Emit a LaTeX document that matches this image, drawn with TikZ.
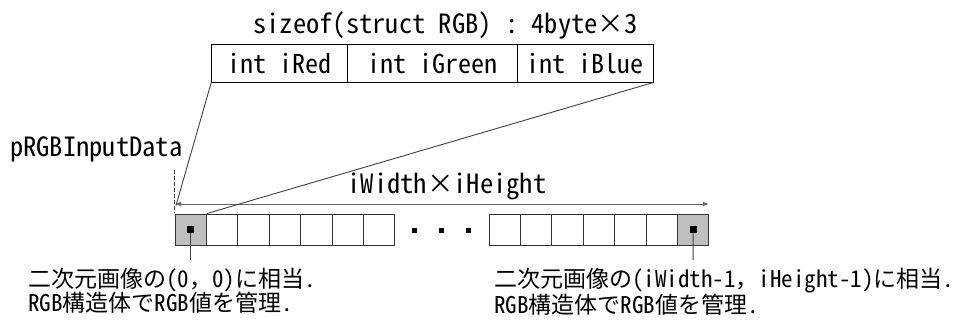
\documentclass[tikz,border=0pt]{standalone}
\usepackage{fontspec}
\usetikzlibrary{arrows.meta}
\setmainfont{Noto Sans CJK JP}
\newfontfamily\hwfont{Noto Sans CJK JP}[CharacterWidth=Half]
\newcommand{\hwt}[1]{{\hwfont #1}}
\begin{document}
\begin{tikzpicture}[x=1pt,y=-1pt,
  txt/.style={inner sep=0pt,font=\fontsize{23}{20.5}\selectfont},
  bigtxt/.style={inner sep=0pt,font=\fontsize{26.5}{28}\selectfont},
  field/.style={draw=black,line width=0.9pt,minimum height=37.5pt,inner sep=0pt,font=\fontsize{26}{28}\selectfont},
  cell/.style={draw=black!80,line width=0.9pt,minimum width=31.4pt,minimum height=31.5pt,inner sep=0pt},
  graycell/.style={cell,fill=black!25},
  pixmark/.style={fill=black,minimum size=7pt,inner sep=0pt},
  dotbox/.style={fill=black,minimum size=5pt,inner sep=0pt},
  conn/.style={draw=black!75,line width=0.9pt},
  dim/.style={draw=black!60,line width=1pt,{Latex[length=6pt,width=5pt]}-{Latex[length=6pt,width=5pt]}}
]
\useasboundingbox (0,0) rectangle (954,322);
% title
\node[bigtxt] (title) at (445.6,26) {\hwt{sizeof(struct RGB) : 4byte}×\hwt{3}};
% struct fields
\node[field,minimum width=135.3pt] (f1) at (279.35,63.25) {\hwt{int iRed}};
\node[field,minimum width=170pt] (f2) at (432,63.25) {\hwt{int iGreen}};
\node[field,minimum width=136pt] (f3) at (585,63.25) {\hwt{int iBlue}};
% array cells
\foreach \i in {1,...,7}{
  \node[cell] (c\i) at ({190.7+(\i-1)*31.4},229.75) {};
}
\foreach \i in {8,...,14}{
  \node[cell] (c\i) at ({504.7+(\i-8)*31.4},229.75) {};
}
\node[graycell] (g1) at (c1) {};
\node[graycell] (g14) at (c14) {};
\node[pixmark] (m1) at (g1) {};
\node[pixmark] (m14) at (g14) {};
\node[dotbox] (d1) at (414.3,230) {};
\node[dotbox] (d2) at (441.5,230) {};
\node[dotbox] (d3) at (468.3,230) {};
% pointer label
\node[bigtxt,anchor=base west] (ptr) at (10,156) {\hwt{pRGBInputData}};
\coordinate (dtop) at (174.6,170);
\coordinate (dbot) at (174.6,213);
\draw[conn,dash pattern=on 4pt off 2pt] (dtop) -- (dbot);
% dimension arrow
\coordinate (a1) at (175,204);
\coordinate (a2) at (708.8,204);
\draw[dim] (a1) -- (a2);
\node[bigtxt,anchor=base] (dimlab) at (447,193) {\hwt{iWidth}×\hwt{iHeight}};
% expansion lines
\draw[conn] (f1.south west) -- (176,205.5);
\draw[conn] (f3.south east) -- (g1.north east);
% leader lines
\coordinate (l1) at (190.7,260);
\coordinate (l14) at (693.1,260);
\draw[conn] (m1) -- (l1);
\draw[conn] (m14) -- (l14);
% bottom texts
\node[txt,anchor=north west,align=left] (t1) at (28,267.5) {二次元画像の\hwt{(0}，\hwt{0)}に相当\hwt{.}\\\hwt{RGB}構造体で\hwt{RGB}値を管理\hwt{.}};
\node[txt,anchor=north west,align=left] (t2) at (494,267.5) {二次元画像の\hwt{(iWidth-1}，\hwt{iHeight-1)}に相当\hwt{.}\\\hwt{RGB}構造体で\hwt{RGB}値を管理\hwt{.}};
\end{tikzpicture}
\end{document}
